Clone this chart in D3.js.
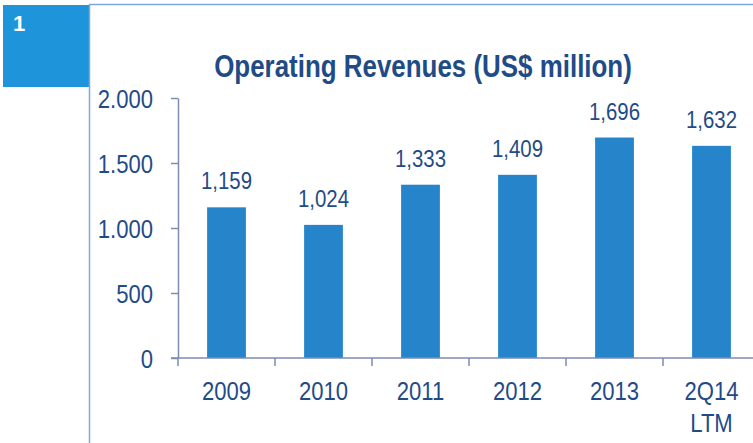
<!DOCTYPE html>
<html>
<head>
<meta charset="utf-8">
<script src="https://cdn.jsdelivr.net/npm/d3@7"></script>
<style>
  body { margin: 0; background: #fff; }
  text { font-family: "Liberation Sans", Arial, sans-serif; }
</style>
</head>
<body>
<script>
// chart data
var categories = ["2009", "2010", "2011", "2012", "2013", "2Q14 LTM"];
var revenues = [1159, 1024, 1333, 1409, 1696, 1632];
var yTicks = [0, 500, 1000, 1500, 2000];
var title = "Operating Revenues (US$ million)";

var width = 753, height = 443;
var textColor = "#1F4B87", barColor = "#2684CB", axisColor = "#7D8DAE";
var narrow = 0.85; // squeeze Liberation Sans to look like Arial Narrow

var svg = d3.select("body")
  .append("svg")
  .attr("width", width)
  .attr("height", height);

// blue number box and frame
svg.append("rect")
  .attr("x", 3).attr("y", 5)
  .attr("width", 86).attr("height", 82)
  .style("fill", "#1E95DB");
svg.append("text")
  .attr("x", 13).attr("y", 31)
  .style("font-weight", "bold")
  .style("font-size", "22px")
  .style("fill", "#fff")
  .text("1");
svg.append("path")
  .attr("d", "M89.5,443V4.5H753")
  .style("fill", "none")
  .style("stroke", "#7FA6E8")
  .style("stroke-width", 1.5);

// title
svg.append("text")
  .attr("class", "narrow")
  .attr("x", 423).attr("y", 77)
  .attr("text-anchor", "middle")
  .style("font-weight", "bold")
  .style("font-size", "30.5px")
  .style("fill", textColor)
  .text(title);

// scales
var x = d3.scaleBand()
  .domain(categories)
  .range([178, 760])
  .padding(0);

var y = d3.scaleLinear()
  .domain([0, 2000])
  .range([358, 98]);

var dotLocale = d3.formatLocale({ decimal: ",", thousands: ".", grouping: [3], currency: ["", ""] });
var yFormat = dotLocale.format(",");
var valFormat = d3.format(",");

// y axis
var yAxis = svg.append("g")
  .attr("transform", "translate(178,0)")
  .call(d3.axisLeft(y).tickValues(yTicks).tickFormat(yFormat).tickSize(7).tickSizeOuter(0).tickPadding(18));
yAxis.selectAll("path, line").style("stroke", axisColor).style("stroke-width", 1.5);
yAxis.selectAll("text")
  .attr("class", "narrow")
  .attr("dy", null)
  .attr("y", 9)
  .style("font-family", "'Liberation Sans', Arial, sans-serif")
  .style("font-size", "26px")
  .style("fill", textColor);

// bars
svg.append("g")
  .selectAll("rect")
  .data(revenues)
  .enter().append("rect")
  .attr("x", function (d, i) { return x(categories[i]) + x.bandwidth() * 0.3; })
  .attr("width", x.bandwidth() * 0.4)
  .attr("y", function (d) { return y(d); })
  .attr("height", function (d) { return y(0) - y(d); })
  .style("fill", barColor);

// value labels
svg.append("g")
  .selectAll("text")
  .data(revenues)
  .enter().append("text")
  .attr("class", "narrow")
  .attr("x", function (d, i) { return x(categories[i]) + x.bandwidth() / 2; })
  .attr("y", function (d) { return y(d) - 18; })
  .attr("text-anchor", "middle")
  .style("font-size", "24px")
  .style("fill", textColor)
  .text(function (d) { return valFormat(d); });

// x axis line and boundary ticks
var xAxis = svg.append("g");
xAxis.append("line")
  .attr("x1", 171).attr("x2", width)
  .attr("y1", y(0)).attr("y2", y(0))
  .style("stroke", axisColor).style("stroke-width", 1.5);
xAxis.selectAll(".tick")
  .data(categories)
  .enter().append("line")
  .attr("class", "tick")
  .attr("x1", function (d) { return x(d); })
  .attr("x2", function (d) { return x(d); })
  .attr("y1", y(0)).attr("y2", y(0) + 8)
  .style("stroke", axisColor).style("stroke-width", 1.5);

// category labels, one text per line
var lines = [];
categories.forEach(function (c) {
  c.split(" ").forEach(function (w, i) { lines.push({ cat: c, word: w, row: i }); });
});
xAxis.selectAll(".label")
  .data(lines)
  .enter().append("text")
  .attr("class", "narrow")
  .attr("text-anchor", "middle")
  .attr("x", function (d) { return x(d.cat) + x.bandwidth() / 2; })
  .attr("y", function (d) { return 400 + d.row * 32; })
  .style("font-size", "26px")
  .style("fill", textColor)
  .text(function (d) { return d.word; });

// move x/y into a transform so the glyphs can be squeezed horizontally
svg.selectAll("text.narrow").each(function () {
  var t = d3.select(this);
  var tx = +t.attr("x") || 0, ty = +t.attr("y") || 0;
  t.attr("x", 0).attr("y", 0)
    .attr("transform", "translate(" + tx + "," + ty + ") scale(" + narrow + ",1)");
});
</script>
</body>
</html>
